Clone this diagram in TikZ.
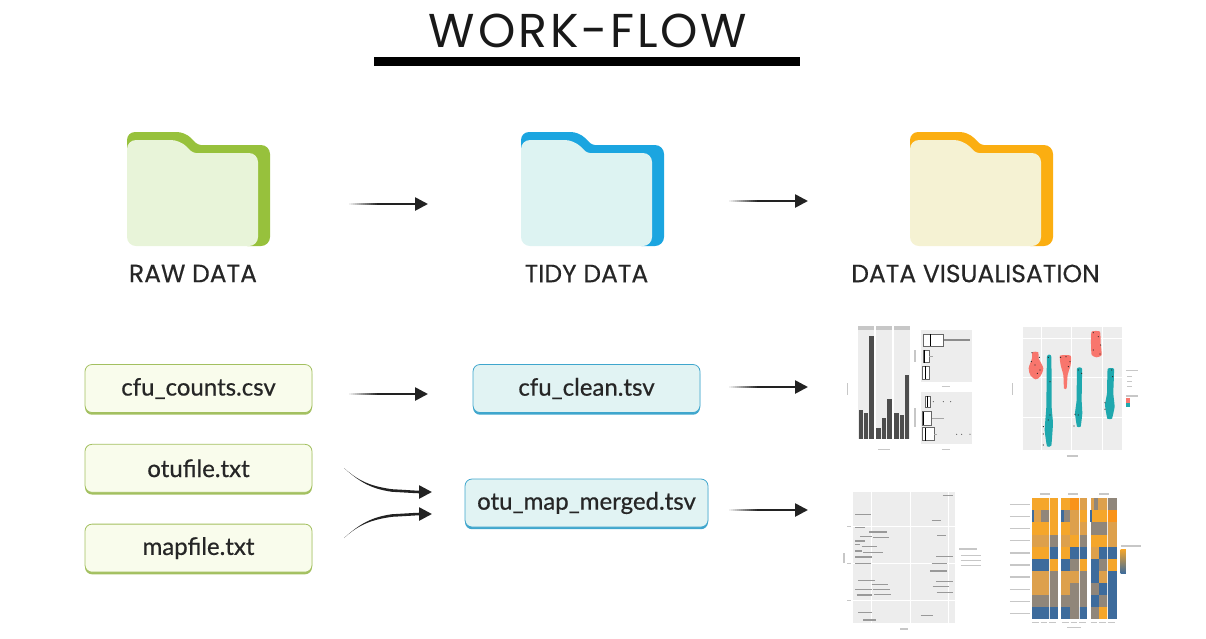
\documentclass[tikz,border=0pt]{standalone}
\usepackage{fontspec}
\setmainfont{Poppins}
\newfontfamily\titlefont[LetterSpace=6]{Poppins}
\newfontfamily\captionfont[FakeBold=0.3]{Poppins}
\newfontfamily\filefont[FakeBold=0.6]{Lato}
\usepackage{tikz}
\usetikzlibrary{arrows.meta,calc,positioning}
\definecolor{rawdark}{HTML}{97C13C}
\definecolor{rawlight}{HTML}{E8F4D9}
\definecolor{tidydark}{HTML}{1BA5E0}
\definecolor{tidylight}{HTML}{DDF3F2}
\definecolor{visdark}{HTML}{FBAE11}
\definecolor{vislight}{HTML}{F5F2D3}
\definecolor{rawbox}{HTML}{F9FCEC}
\definecolor{rawedge}{HTML}{A3C060}
\definecolor{tidybox}{HTML}{E1F3F3}
\definecolor{tidyedge}{HTML}{3FA6CD}
\definecolor{flowdark}{HTML}{222222}
\definecolor{panelgrey}{HTML}{EDEDED}
\definecolor{barfill}{HTML}{4D4D4D}
\definecolor{violinred}{HTML}{F8766D}
\definecolor{violinteal}{HTML}{1FA8AE}
\definecolor{hmO}{HTML}{F5A62A}
\definecolor{hmD}{HTML}{F9931A}
\definecolor{hmT}{HTML}{DDA04C}
\definecolor{hmG}{HTML}{90867A}
\definecolor{hmB}{HTML}{3D6B9C}
\tikzset{
    %Define standard arrow tip
    >={Triangle[length=13pt,width=13pt]},
    %Define style for folders
    foldernode/.style={
           minimum width=143pt,
           minimum height=114pt,
           inner sep=0pt},
    %Define style for folder captions
    caption/.style={
           font=\captionfont\fontsize{25}{28}\selectfont,
           text=black!85,
           inner sep=0pt},
    %Define style for file boxes
    filebox/.style={
           rectangle,
           rounded corners=7pt,
           minimum height=48pt,
           inner sep=0pt,
           font=\filefont\fontsize{24}{28}\selectfont,
           text=black!85,
           text centered},
    rawfile/.style={
           filebox,
           minimum width=227pt,
           fill=rawbox,
           draw=rawedge,
           line width=.8pt,
           preaction={fill=rawedge, transform canvas={yshift=-2.2pt}}},
    tidyfile/.style={
           filebox,
           fill=tidybox,
           draw=tidyedge,
           line width=.8pt,
           preaction={fill=tidyedge, transform canvas={yshift=-2.2pt}}},
    % Define arrow style
    flow/.style={
           ->,
           draw=flowdark,
           line width=2.6pt},
    panel/.style={
           fill=panelgrey},
    smudge/.style={
           draw=black!22,
           line width=1.5pt},
    dot/.style={
           fill=black!85},
    pics/folder/.style 2 args={
      code={
        \fill[#1, rounded corners=8pt] (-71.5,-30) -- (-71.5,-57) -- (-13.5,-57)
            [rounded corners=3pt] -- (-.5,-44)
            [rounded corners=9pt] -- (71.5,-44) -- (71.5,57) -- (40,57) -- (40,-30) -- cycle;
        \fill[#2, rounded corners=9pt] (-71.5,0) -- (-71.5,-49) -- (-18.5,-49)
            [rounded corners=3pt] -- (-5.5,-36)
            [rounded corners=9pt] -- (59.5,-36) -- (59.5,57) -- (-71.5,57) -- cycle;
      }
    }
}
\begin{document}
\begin{tikzpicture}[x=1pt,y=-1pt]
\useasboundingbox (0,0) rectangle (1206,638);

 %title
\node[font=\titlefont\fontsize{47.5}{50}\selectfont, text=black!90, inner sep=0pt] (title) at (588,31) {WORK-FLOW};
\coordinate (ruleleft) at (374,61.5);
\coordinate (ruleright) at (800,61.5);
\draw[line width=9pt, draw=black] (ruleleft) -- (ruleright);

 %folders
\node[foldernode] (rawfolder) at (198.5,189) {};
\node[foldernode] (tidyfolder) at (592.5,189) {};
\node[foldernode] (visfolder) at (981.5,189) {};
\pic at (rawfolder) {folder={rawdark}{rawlight}};
\pic at (tidyfolder) {folder={tidydark}{tidylight}};
\pic at (visfolder) {folder={visdark}{vislight}};

\node[caption] (rawcaption) at (193,273.5) {RAW DATA};
\node[caption] (tidycaption) at (586.5,273.5) {TIDY DATA};
\node[caption] (viscaption) at (975.5,273.5) {DATA VISUALISATION};

 %files
\node[rawfile] (counts) at (198.5,388.5) {cfu\_counts.csv};
\node[rawfile, below=31pt of counts] (otu) {otufile.txt};
\node[rawfile, below=31pt of otu] (map) {mapfile.txt};
\node[tidyfile, minimum width=227pt] (clean) at (586.5,388.5) {cfu\_clean.tsv};
\node[tidyfile, minimum width=243pt] (merged) at (586.5,503) {otu\_map\_merged.tsv};

 %free arrow ends
\coordinate (a1) at (349,204);  \coordinate (b1) at (428,204);
\coordinate (a2) at (729,201);  \coordinate (b2) at (808,201);
\coordinate (a3) at (349,394);  \coordinate (b3) at (428,394);
\coordinate (a4) at (729,387);  \coordinate (b4) at (808,387);
\coordinate (a5) at (729,510);  \coordinate (b5) at (808,510);
\coordinate (c1) at (344,468);  \coordinate (m1) at (392,490.5);  \coordinate (d1) at (432,492);
\coordinate (c2) at (344,538);  \coordinate (m2) at (392,515.5);  \coordinate (d2) at (432,514);

\foreach \from/\to in {a1/b1,a2/b2,a3/b3,a4/b4,a5/b5}{
  \foreach \step in {0,2,...,28}{
    \pgfmathsetmacro{\shadeval}{100*(\step+2)/30}
    \draw[draw=flowdark!\shadeval!white, line width=2.4pt] ($(\from)+(\step,0)$) -- ($(\from)+(\step+2.2,0)$);
  }
  \draw[flow] ($(\from)+(29,0)$) -- (\to);
}
\fill[flowdark] (c1) to[out=-42,in=172] ($(m1)+(0,-1.3)$) -- ($(m1)+(0,1.3)$) to[out=172,in=-42] (c1);
\draw[flow] (m1) to[out=-3,in=180] (d1);
\fill[flowdark] (c2) to[out=42,in=-172] ($(m2)+(0,-1.3)$) -- ($(m2)+(0,1.3)$) to[out=-172,in=42] (c2);
\draw[flow] (m2) to[out=3,in=180] (d2);

 %bar chart and box plots
\begin{scope}[shift={(830,320)},x=.3333pt,y=-.3333pt]
  \foreach \xa/\xb in {85/133,138/187,191/240}{
    \fill[black!22] (\xa,18) rectangle (\xb,30);
    \fill[panel] (\xa,30) rectangle (\xb,357);
  }
  \foreach \xa/\top in {86/270,101/278,118/47,139/323,155/295,171/237,193/278,209/285,224/165}
    \fill[barfill] (\xa,\top) rectangle (\xa+14,357);
  \draw[smudge] (52,190) -- (52,225) (145,388) -- (180,388);
  \fill[panel] (272,30) rectangle (427,185);
  \fill[panel] (272,215) rectangle (427,372);
  \draw[draw=black!45, line width=1.2pt] (340,60) -- (420,60);
  \foreach \xa/\xb/\ya/\yb/\med in {280/340/42/78/302,280/298/90/128/283,276/298/138/178/285,
      287/300/228/262/292,277/305/275/315/279,276/312/323/362/287}
    {\draw[fill=white, draw=black!60, line width=.5pt] (\xa,\ya) rectangle (\xb,\yb);
     \draw[black, line width=1pt] (\med,\ya) -- (\med,\yb);}
  \draw[draw=black!35, line width=.4pt] (298,108) -- (310,108) (305,295) -- (342,295) (312,343) -- (320,343);
  \foreach \px/\py in {310/245,340/245,362/245,380/343,395/343,420/343}
    \fill[black!60] (\px,\py) circle (1.8);
  \draw[smudge] (255,90) -- (255,125) (255,265) -- (255,320) (335,200) -- (360,200) (335,388) -- (360,388);

  % violins
  \fill[panel] (580,20) rectangle (875,390);
  \foreach \vy in {55,173,291} \draw[white, line width=.4pt] (580,\vy) -- (875,\vy);
  \foreach \vx in {635,725,818} \draw[white, line width=.4pt] (\vx,20) -- (\vx,390);
  \fill[violinred] plot[smooth cycle, tension=.5] coordinates {(607,97)(625,97)(626,115)(640,145)(630,170)(617,178)(602,167)(596,145)(606,115)};
  \fill[violinred] plot[smooth cycle, tension=.3] coordinates {(690,107)(722,107)(722,135)(713,165)(710,205)(702,205)(700,165)(692,135)};
  \fill[violinred] plot[smooth cycle, tension=.3] coordinates {(785,35)(810,35)(812,70)(815,105)(800,112)(785,105)(783,70)};
  \fill[violinteal] plot[smooth cycle, tension=.2] coordinates {(651,110)(664,110)(665,260)(669,310)(664,377)(651,379)(644,330)(649,260)};
  \fill[violinteal] plot[smooth cycle, tension=.2] coordinates {(741,146)(756,146)(755,240)(757,280)(752,320)(741,320)(735,280)(740,240)};
  \fill[violinteal] plot[smooth cycle, tension=.2] coordinates {(833,147)(852,147)(850,220)(854,260)(846,296)(832,296)(825,255)(831,220)};
  \foreach \px/\py in {606/98,628/112,604/125,615/135,630/150,622/160,692/112,708/110,720/125,715/140,
      790/38,805/50,812/75,790/90,810/102,655/112,660/185,640/320,640/342,640/375,660/285,655/300,
      745/150,755/160,735/283,745/285,732/318,845/150,848/170,825/248,825/268}
    \fill[dot] (\px,\py) circle (1.8);
  \draw[smudge] (548,190) -- (548,225) (710,408) -- (745,408) (888,152) -- (925,152) (888,228) -- (925,228);
  \foreach \vy in {170,184,198} \draw[smudge, line width=.8pt] (892,\vy) -- (906,\vy);
  \fill[violinred] (888,235) rectangle (900,248);
  \fill[violinteal] (888,249) rectangle (900,262);
\end{scope}

 %scatter labels and heatmap
\begin{scope}[shift={(830,485)},x=.3333pt,y=-.3333pt]
  \fill[panel] (70,20) rectangle (375,415);
  \foreach \vy in {125,235,345} \draw[white, line width=.5pt] (70,\vy) -- (375,\vy);
  \foreach \vx in {125,240,355} \draw[white, line width=.5pt] (\vx,20) -- (\vx,415);
  \foreach \xa/\xb/\vy in {338/368/31,75/122/88,305/333/107,75/105/128,118/172/141,90/125/155,130/178/157,
      75/105/168,75/90/179,95/140/185,75/95/198,100/160/203,75/125/216,75/123/235,318/368/215,
      305/352/235,300/350/258,322/348/151,85/135/287,125/175/299,318/370/290,308/358/304,320/370/322,
      75/125/314,130/180/313,80/125/330,132/182/329,85/125/383,100/138/405,272/308/392}
    \draw[smudge, draw=black!40] (\xa,\vy) -- (\xb,\vy);
  \draw[smudge] (42,205) -- (42,235) (210,432) -- (235,432) (388,192) -- (440,192);
  \foreach \vy in {211,226,241} \draw[smudge, line width=1pt] (392,\vy) -- (453,\vy);
  \foreach \vy in {125,235,345} \draw[smudge, line width=.8pt] (52,\vy) -- (64,\vy);

  % heatmap
  \foreach \cell [count=\i from 0] in {
      O,O,O,O,D,T,T,T,G,
      T,G,O,G,T,O,O,O,D,
      O,O,O,O,T,T,G,G,T,
      T,T,G,T,O,G,O,O,T,
      O,O,B,O,B,B,T,B,B,
      B,B,O,B,G,O,B,G,O,
      T,T,G,T,T,G,B,T,B,
      T,T,G,T,G,G,G,B,B,
      G,G,G,G,G,G,B,G,B,
      B,B,B,B,G,B,G,O,B}{
    \pgfmathtruncatemacro{\hmrow}{int(\i/9)}
    \pgfmathtruncatemacro{\hmcol}{mod(\i,9)}
    \pgfmathsetmacro{\hmx}{606+26*\hmcol+10*int(\hmcol/3)}
    \pgfmathsetmacro{\hmy}{40+36.2*\hmrow}
    \fill[color=hm\cell] (\hmx,\hmy) rectangle ++(26.2,36.4);
  }
  % narrow stripes of the first columns
  \foreach \hmx in {606,694,780} \fill[hmB] (\hmx,76) rectangle ++(7,36);
  \fill[hmG] (792,40) rectangle ++(12,36);
  \foreach \hmx in {659,747,833} \draw[white, line width=.7pt, opacity=.8] (\hmx,40) -- (\hmx,402);
  \foreach \vy in {58,95,131,167,204,240,276,313,349,385}
    \draw[smudge] (540,\vy) -- (600,\vy);
  \foreach \xa in {630,715,808} \draw[smudge] (\xa,27) -- (\xa+30,27);
  \foreach \xa in {606,632,658,696,722,748,782,808,834} \draw[smudge] (\xa,413) -- (\xa+20,413);
  \draw[smudge] (712,428) -- (752,428) (872,183) -- (932,183);
  \shade[top color=hmO, bottom color=hmB] (872,193) rectangle (888,265);
\end{scope}
\end{tikzpicture}
\end{document}
